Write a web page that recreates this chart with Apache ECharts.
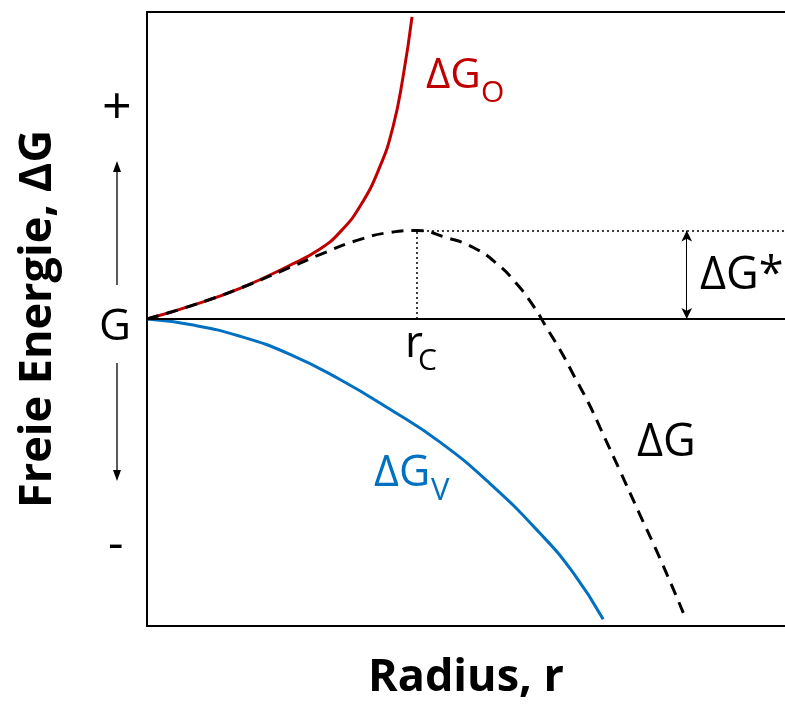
<!DOCTYPE html>
<html>
<head>
<meta charset="utf-8">
<script src="https://cdn.jsdelivr.net/npm/echarts@6/dist/echarts.min.js"></script>
<style>
  html, body { margin: 0; padding: 0; background: #fff; }
  #main { width: 785px; height: 706px; }
</style>
</head>
<body>
<div id="main"></div>
<script>
// Radius (0..100) and free energy (-10..10), G level at 0
var surfaceX = [0, 6.74, 14.58, 22.41, 27.12, 30.25, 33.39, 36.52, 38.56, 40.13, 41.54];
var surfaceY = [0, 0.42, 1.00, 1.75, 2.28, 2.83, 3.67, 4.97, 6.26, 7.88, 9.84];

var volumeX = [0, 6.74, 14.58, 22.41, 30.25, 38.09, 45.92, 53.76, 61.6, 66.82, 71.5];
var volumeY = [0, -0.18, -0.56, -1.15, -1.97, -2.94, -4.01, -5.36, -6.98, -8.27, -9.78];

var totalX = [0, 6.74, 14.58, 22.41, 27.59, 32.92, 38.09, 42.32, 46.97, 51.14, 54.81, 57.84,
              60.45, 62.74, 65.0, 67.08, 69.17, 71.0, 74.14, 77.27, 80.41, 84.06];
var totalY = [0, 0.42, 1.00, 1.68, 2.14, 2.56, 2.82, 2.88, 2.65, 2.33, 1.81, 1.17,
              0.46, -0.32, -1.10, -1.91, -2.72, -3.53, -4.95, -6.38, -7.80, -9.57];

var rCritical = 42.32;
var gCritical = 2.88;
var arrowX = 84.6;

function pairs(xs, ys) {
    var out = [];
    for (var i = 0; i < xs.length; i++) out.push([xs[i], ys[i]]);
    return out;
}

var chart = echarts.init(document.getElementById('main'));
var FONT = '"Open Sans", "DejaVu Sans", sans-serif';

var hiddenAxis = {
    type: 'value', min: 0, max: 100,
    axisTick: { show: false }, axisLabel: { show: false }, splitLine: { show: false }
};

chart.setOption({
    animation: false,
    grid: { left: 147, top: 12, right: 0, bottom: 76 },
    xAxis: [
        Object.assign({}, hiddenAxis, {
            position: 'bottom',
            axisLine: { show: true, onZero: false, lineStyle: { color: '#000', width: 2 } },
            name: 'Radius, r', nameLocation: 'middle', nameGap: 30,
            nameTextStyle: { fontFamily: FONT, fontWeight: 'bold', fontSize: 45, color: '#000' }
        }),
        Object.assign({}, hiddenAxis, {
            position: 'top',
            axisLine: { show: true, onZero: false, lineStyle: { color: '#000', width: 2 } }
        })
    ],
    yAxis: {
        type: 'value', min: -10, max: 10,
        axisTick: { show: false }, axisLabel: { show: false }, splitLine: { show: false },
        axisLine: { show: true, onZero: false, lineStyle: { color: '#000', width: 2 } },
        name: 'Freie Energie, ΔG', nameLocation: 'middle', nameGap: 86,
        nameTextStyle: { fontFamily: FONT, fontWeight: 'bold', fontSize: 45, color: '#000' }
    },
    series: [{
        name: 'ΔGO', type: 'line', smooth: 0.5, symbol: 'none',
        data: pairs(surfaceX, surfaceY),
        lineStyle: { color: '#C00000', width: 3 },
        markLine: {
            symbol: 'none', silent: true, label: { show: false },
            lineStyle: { color: '#000', width: 2, type: 'solid' },
            data: [[{ coord: [0, 0] }, { coord: [100, 0] }]]
        }
    }, {
        name: 'ΔGV', type: 'line', smooth: 0.5, symbol: 'none',
        data: pairs(volumeX, volumeY),
        lineStyle: { color: '#0070C0', width: 3 }
    }, {
        name: 'ΔG', type: 'line', smooth: 0.5, symbol: 'none',
        data: pairs(totalX, totalY),
        lineStyle: { color: '#000', width: 3, type: [12, 8] },
        markLine: {
            symbol: 'none', silent: true, label: { show: false },
            lineStyle: { color: '#000', width: 1.5, type: [2, 3] },
            data: [
                [{ coord: [rCritical, gCritical] }, { coord: [100, gCritical] }],
                [{ coord: [rCritical, 0] }, { coord: [rCritical, gCritical] }]
            ]
        }
    }, {
        type: 'line', symbol: 'none', data: [],
        markLine: {
            symbol: ['arrow', 'arrow'], symbolSize: [8, 11], silent: true, label: { show: false },
            lineStyle: { color: '#000', width: 1, type: 'solid' },
            data: [[{ coord: [arrowX, 0] }, { coord: [arrowX, gCritical] }]]
        }
    }],
    graphic: [
        // left side markers
        { type: 'text', left: 102, top: 83, style: { text: '+', font: '52px ' + FONT, fill: '#000' } },
        { type: 'text', left: 99, top: 305, style: { text: 'G', font: '44px ' + FONT, fill: '#000' } },
        { type: 'text', left: 108, top: 521, style: { text: '-', font: '48px ' + FONT, fill: '#000' } },
        { type: 'line', shape: { x1: 117, y1: 285, x2: 117, y2: 170 }, style: { stroke: '#000', lineWidth: 1.3 } },
        { type: 'polygon', shape: { points: [[117, 161], [113, 172], [121, 172]] }, style: { fill: '#000' } },
        { type: 'line', shape: { x1: 117, y1: 363, x2: 117, y2: 472 }, style: { stroke: '#000', lineWidth: 1.3 } },
        { type: 'polygon', shape: { points: [[117, 481], [113, 470], [121, 470]] }, style: { fill: '#000' } },
        // curve labels
        { type: 'text', left: 426, top: 55, style: { text: 'ΔG', font: '42px ' + FONT, fill: '#C00000' } },
        { type: 'text', left: 481, top: 78, style: { text: 'O', font: '30px ' + FONT, fill: '#C00000' } },
        { type: 'text', left: 374, top: 452, style: { text: 'ΔG', font: '43px ' + FONT, fill: '#0070C0' } },
        { type: 'text', left: 431, top: 476, style: { text: 'V', font: '31px ' + FONT, fill: '#0070C0' } },
        { type: 'text', left: 637, top: 421, style: { text: 'ΔG', font: '45px ' + FONT, fill: '#000' } },
        { type: 'text', left: 700, top: 254, style: { text: 'ΔG*', font: '45px ' + FONT, fill: '#000' } },
        { type: 'text', left: 405, top: 322, style: { text: 'r', font: '44px ' + FONT, fill: '#000' } },
        { type: 'text', left: 418, top: 346, style: { text: 'C', font: '30px ' + FONT, fill: '#000' } }
    ]
});
</script>
</body>
</html>
